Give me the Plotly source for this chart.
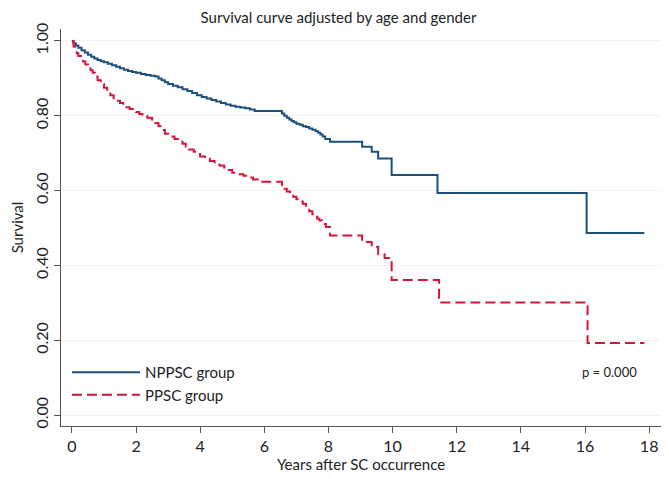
import plotly.graph_objects as go

# NPPSC group (blue) survival steps
nppsc_t = [0, 0.05, 0.12, 0.2, 0.3, 0.4, 0.5, 0.6, 0.7, 0.8, 0.9, 1.0, 1.12, 1.25, 1.38, 1.5, 1.62,
           1.75, 1.88, 2.0, 2.15, 2.3, 2.45, 2.6, 2.7, 2.8, 2.9, 3.0, 3.15, 3.3, 3.45, 3.6, 3.75,
           3.9, 4.05, 4.2, 4.35, 4.5, 4.65, 4.8, 4.95, 5.1, 5.25, 5.4, 5.55, 5.7, 6.55, 6.62, 6.7,
           6.78, 6.85, 6.92, 7.0, 7.1, 7.2, 7.3, 7.4, 7.5, 7.6, 7.68, 7.75, 7.82, 7.9, 8.05,
           9.05, 9.35, 9.55, 9.97, 11.4, 16.05, 17.85]
nppsc_s = [1.0, 0.994, 0.988, 0.982, 0.975, 0.969, 0.963, 0.958, 0.953, 0.949, 0.946, 0.943,
           0.939, 0.935, 0.931, 0.927, 0.923, 0.92, 0.917, 0.915, 0.912, 0.909, 0.907, 0.905,
           0.9, 0.895, 0.89, 0.885, 0.88, 0.876, 0.871, 0.866, 0.861, 0.855, 0.85, 0.846, 0.842,
           0.838, 0.834, 0.83, 0.827, 0.824, 0.822, 0.82, 0.817, 0.813, 0.806, 0.80, 0.795,
           0.79, 0.786, 0.783, 0.779, 0.776, 0.772, 0.77, 0.766, 0.763, 0.759, 0.755, 0.75,
           0.745, 0.738, 0.731, 0.717, 0.704, 0.686, 0.642, 0.594, 0.487, 0.487]

# PPSC group (red dashed) survival steps
ppsc_t = [0, 0.05, 0.1, 0.15, 0.2, 0.28, 0.35, 0.42, 0.5, 0.58, 0.65, 0.72, 0.8, 0.9, 1.0, 1.1,
          1.2, 1.3, 1.4, 1.5, 1.6, 1.7, 1.8, 1.9, 2.0, 2.1, 2.2, 2.35, 2.5, 2.6, 2.7, 2.8, 2.9,
          3.05, 3.2, 3.35, 3.45, 3.55, 3.65, 3.8, 3.9, 4.0, 4.15, 4.3, 4.45, 4.6, 4.75, 4.85,
          5.0, 5.2, 5.35, 5.5, 5.65, 5.8, 6.55, 6.62, 6.7, 6.8, 6.9, 7.0, 7.1, 7.2, 7.3, 7.4,
          7.5, 7.58, 7.65, 7.72, 7.8, 7.92, 8.05, 9.05, 9.35, 9.55, 9.75, 9.97, 11.45, 16.08,
          17.85]
ppsc_s = [1.0, 0.985, 0.975, 0.967, 0.96, 0.952, 0.945, 0.937, 0.93, 0.922, 0.915, 0.905,
          0.895, 0.885, 0.875, 0.865, 0.855, 0.847, 0.84, 0.834, 0.828, 0.823, 0.818, 0.814,
          0.81, 0.805, 0.80, 0.795, 0.79, 0.781, 0.772, 0.762, 0.752, 0.745, 0.738, 0.731,
          0.725, 0.718, 0.71, 0.704, 0.698, 0.691, 0.685, 0.679, 0.673, 0.667, 0.662, 0.655,
          0.648, 0.644, 0.64, 0.635, 0.63, 0.624, 0.612, 0.605, 0.598, 0.592, 0.584, 0.577,
          0.571, 0.565, 0.555, 0.545, 0.537, 0.53, 0.525, 0.52, 0.511, 0.503, 0.48, 0.463,
          0.45, 0.43, 0.42, 0.361, 0.301, 0.193, 0.193]

x_ticks = [0, 2, 4, 6, 8, 10, 12, 14, 16, 18]
y_ticks = [0.0, 0.2, 0.4, 0.6, 0.8, 1.0]
y_tick_labels = ["0.00", "0.20", "0.40", "0.60", "0.80", "1.00"]

FONT = "Lato"
BLUE = "#1d4f7c"
RED = "#d3153d"

fig = go.Figure()
fig.add_trace(go.Scatter(x=nppsc_t, y=nppsc_s, mode="lines", line_shape="hv",
                         name="NPPSC group", line=dict(color=BLUE, width=2)))
fig.add_trace(go.Scatter(x=ppsc_t, y=ppsc_s, mode="lines", line_shape="hv",
                         name="PPSC group", line=dict(color=RED, width=2, dash="10px,5px")))

fig.add_annotation(x=16.77, y=0.115, text="p = 0.000", showarrow=False,
                   font=dict(family=FONT, size=13, color="#222"))

# page body has an 8px default margin, so the figure is sized to fill the rest of the window
fig.update_layout(
    width=661, height=471,
    margin=dict(l=53, r=8, t=21, b=53),
    paper_bgcolor="white", plot_bgcolor="white",
    font=dict(family=FONT, color="#222"),
    title=dict(text="Survival curve adjusted by age and gender", x=0.5, xanchor="center",
               y=0.99, yanchor="top", font=dict(family=FONT, size=15, color="#222")),
    legend=dict(x=0.01, y=0.038, xanchor="left", yanchor="bottom", bgcolor="rgba(0,0,0,0)",
                font=dict(family=FONT, size=15, color="#222"), itemwidth=68, tracegroupgap=0),
    xaxis=dict(range=[-0.34, 18.37], tickvals=x_ticks, showgrid=False, zeroline=False,
               showline=True, linecolor="#555", linewidth=1, ticks="outside", ticklen=6,
               tickcolor="#555", tickfont=dict(family=FONT, size=16), automargin=False,
               title=dict(text="Years after SC occurrence", font=dict(family=FONT, size=15),
                          standoff=4)),
    yaxis=dict(range=[-0.029, 1.032], tickvals=y_ticks, ticktext=y_tick_labels, tickangle=-90,
               showgrid=True, gridcolor="#f2f2f2", gridwidth=1, zeroline=False,
               showline=True, linecolor="#555", linewidth=1, ticks="outside", ticklen=6,
               tickcolor="#555", tickfont=dict(family=FONT, size=16), automargin=False,
               title=dict(text="Survival", font=dict(family=FONT, size=15), standoff=4)),
)

fig.write_html("out.html")
